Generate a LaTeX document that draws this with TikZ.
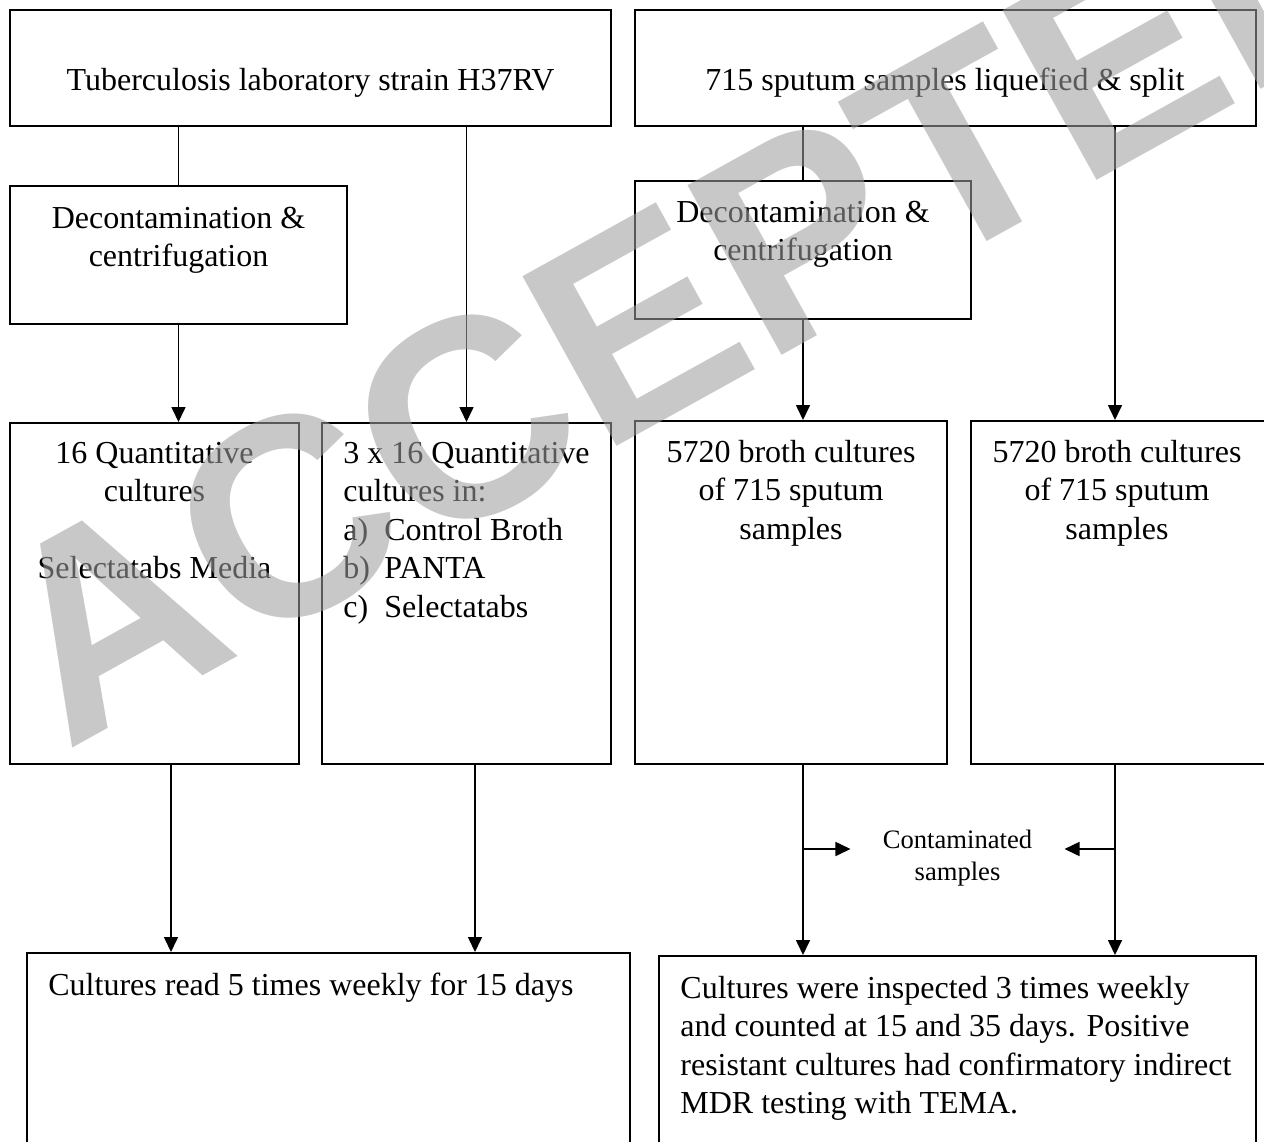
\documentclass[tikz,border=0pt]{standalone}
\usepackage{fontspec}
\setmainfont{Liberation Serif}
\newfontfamily\wmfont{Liberation Sans}
\usetikzlibrary{arrows.meta,fit}
\newcommand\mkbox[5]{\path (#2,#3) coordinate (#1nw) (#4,#5) coordinate (#1se); \node[box, fit=(#1nw)(#1se)] (#1) {};}
\begin{document}
\begin{tikzpicture}[x=0.5pt,y=-0.5pt,
  box/.style={draw, line width=1pt, inner sep=0pt, line join=miter},
  ln/.style={line width=0.8pt},
  arr/.style={ln, -{Triangle[length=7.5pt,width=7pt]}},
  txt/.style={inner sep=0pt, font=\fontsize{16pt}{19.25pt}\selectfont},
  small/.style={inner sep=0pt, font=\fontsize{13.3pt}{16pt}\selectfont},
  wm/.style={inner sep=0pt, text=black!38, text opacity=0.57, font=\wmfont\bfseries\fontsize{141pt}{141pt}\selectfont}]
\useasboundingbox (0,0) rectangle (1264,1141);
\clip (0,0) rectangle (1264,1141);
% boxes
\mkbox{A}{10}{10}{611}{126}
\mkbox{B}{635}{10}{1256}{126}
\mkbox{C}{10}{186}{347}{324}
\mkbox{D}{635}{181}{971}{319}
\mkbox{E}{10}{423}{299}{764}
\mkbox{F}{322}{423}{611}{764}
\mkbox{G}{635}{421}{947}{764}
\mkbox{H}{971}{421}{1266}{764}
\mkbox{I}{27}{953}{630}{1150}
\mkbox{J}{659}{956}{1256}{1150}
% texts
\node[txt, anchor=base] (tA) at (310.5,90) {Tuberculosis laboratory strain H37RV};
\node[txt, anchor=base] (tB) at (945,90) {715 sputum samples liquefied \& split};
\node[txt, anchor=base] (tC1) at (178.5,228) {Decontamination \&};
\node[txt, anchor=base] (tC2) at (178.5,266) {centrifugation};
\node[txt, anchor=base] (tD1) at (803,222) {Decontamination \&};
\node[txt, anchor=base] (tD2) at (803,260) {centrifugation};
\node[txt, anchor=base] (tE1) at (154.5,463) {16 Quantitative};
\node[txt, anchor=base] (tE2) at (154.5,501.5) {cultures};
\node[txt, anchor=base] (tE3) at (154.5,578.5) {Selectatabs Media};
\node[txt, anchor=base west] (tF1) at (343,463) {3 x 16 Quantitative};
\node[txt, anchor=base west] (tF2) at (343,501.5) {cultures in:};
\node[txt, anchor=base west] (tFa) at (343,540) {a)};
\node[txt, anchor=base west] (tFa2) at (384,540) {Control Broth};
\node[txt, anchor=base west] (tFb) at (343,578.5) {b)};
\node[txt, anchor=base west] (tFb2) at (384,578.5) {PANTA};
\node[txt, anchor=base west] (tFc) at (343,617) {c)};
\node[txt, anchor=base west] (tFc2) at (384,617) {Selectatabs};
\node[txt, anchor=base] (tG1) at (791,462) {5720 broth cultures};
\node[txt, anchor=base] (tG2) at (791,500.5) {of 715 sputum};
\node[txt, anchor=base] (tG3) at (791,539) {samples};
\node[txt, anchor=base] (tH1) at (1117,462) {5720 broth cultures};
\node[txt, anchor=base] (tH2) at (1117,500.5) {of 715 sputum};
\node[txt, anchor=base] (tH3) at (1117,539) {samples};
\node[txt, anchor=base west] (tI) at (48,995) {Cultures read 5 times weekly for 15 days};
\node[txt, anchor=base west] (tJ1) at (680,998) {Cultures were inspected 3 times weekly};
\node[txt, anchor=base west] (tJ2) at (680,1036.5) {and counted at 15 and 35 days. Positive};
\node[txt, anchor=base west] (tJ3) at (680,1075) {resistant cultures had confirmatory indirect};
\node[txt, anchor=base west] (tJ4) at (680,1113.5) {MDR testing with TEMA.};
\node[small, anchor=base, inner xsep=16pt] (cont) at (957.5,848) {Contaminated};
\node[small, anchor=base] (cont2) at (957.5,880) {samples};
% connectors
\coordinate (xe) at (171,0);
\coordinate (xf) at (475,0);
\coordinate (jl) at (803,849);
\coordinate (jr) at (1115,849);
\draw[ln] (A.south -| C.north) -- (C.north);
\draw[arr] (C.south) -- (C.south |- E.north);
\draw[arr] (A.south -| F.north) -- (F.north);
\draw[ln] (B.south -| D.north) -- (D.north);
\draw[arr] (D.south) -- (D.south |- G.north);
\draw[arr] (B.south -| jr) -- (H.north -| jr);
\draw[arr] (E.south -| xe) -- (I.north -| xe);
\draw[arr] (F.south -| xf) -- (I.north -| xf);
\draw[arr] (G.south -| jl) -- (J.north -| jl);
\draw[arr] (H.south -| jr) -- (J.north -| jr);
\draw[arr] (jl) -- (cont.west |- jl);
\draw[arr] (jr) -- (cont.east |- jr);
% watermark
\node[wm, anchor=base west, rotate=29] (wmk) at (66,752) {ACCEPTED};
\end{tikzpicture}
\end{document}
